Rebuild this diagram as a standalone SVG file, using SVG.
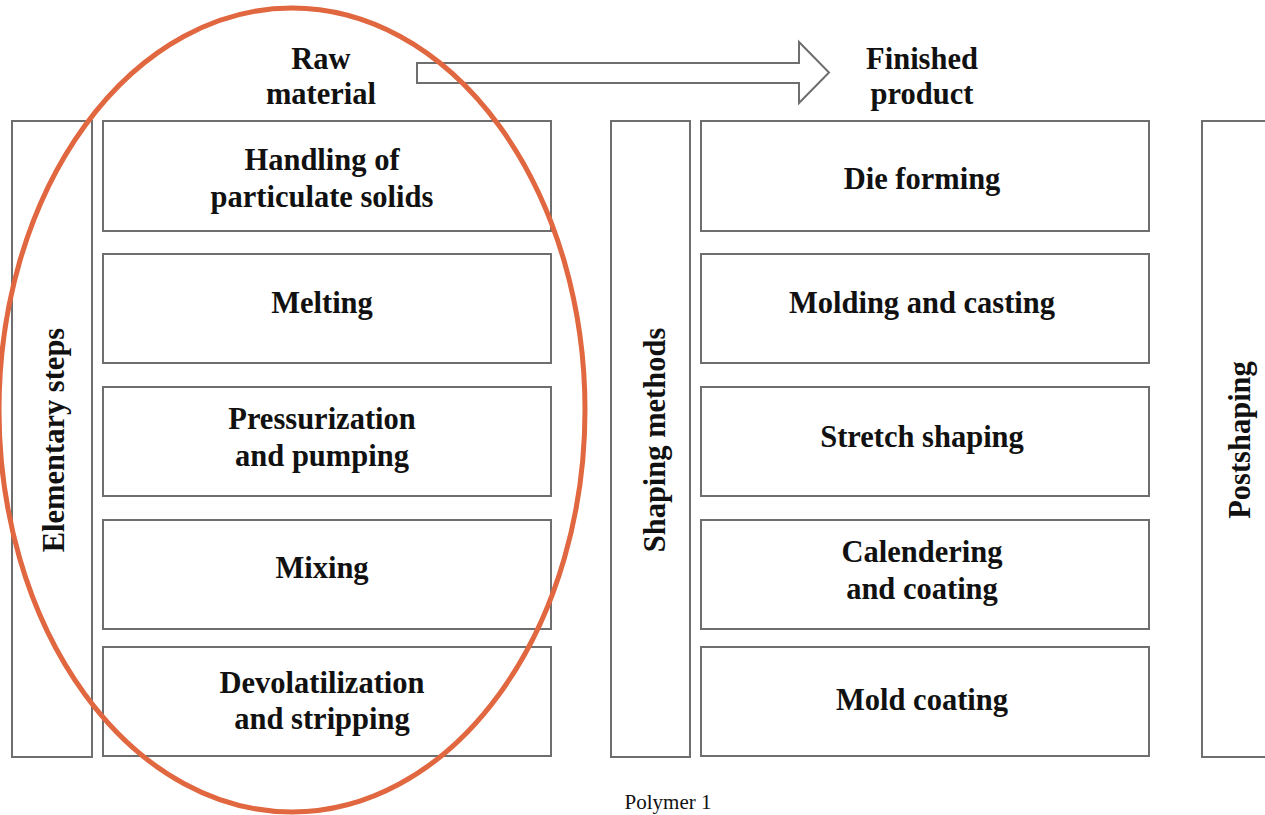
<svg xmlns="http://www.w3.org/2000/svg" width="1265" height="815" viewBox="0 0 1265 815">
  <style>
    .box { fill: #ffffff; stroke: #6e6e6e; stroke-width: 2; }
    .lbl { font-family: "Liberation Serif", "Times New Roman", serif; font-weight: bold; font-size: 30.5px; fill: #111111; text-anchor: middle; }
    .cap { font-family: "Liberation Serif", "Times New Roman", serif; font-size: 21px; fill: #111111; text-anchor: middle; }
    .ring { fill: none; stroke: #E0673F; stroke-width: 5; }
  </style>
  <rect width="1265" height="815" fill="#ffffff"/>

  <!-- top labels and flow arrow -->
  <g id="raw-material">
    <text class="lbl" x="321" y="69">Raw</text>
    <text class="lbl" x="321" y="104">material</text>
  </g>
  <g id="finished-product">
    <text class="lbl" x="922" y="69">Finished</text>
    <text class="lbl" x="922" y="104">product</text>
  </g>
  <g id="connectors">
    <path d="M417,63 L799,63 L799,42 L829,72.5 L799,103 L799,83 L417,83 Z" fill="#ffffff" stroke="#6e6e6e" stroke-width="2" stroke-linejoin="miter"/>
  </g>

  <!-- elementary steps column -->
  <g id="elementary-steps">
    <rect class="box" x="12" y="121" width="80" height="636"/>
    <text class="lbl" transform="translate(64,440) rotate(-90)">Elementary steps</text>
  </g>
  <g id="handling">
    <rect class="box" x="103" y="121" width="448" height="110"/>
    <text class="lbl" x="322" y="170">Handling of</text>
    <text class="lbl" x="322" y="207">particulate solids</text>
  </g>
  <g id="melting">
    <rect class="box" x="103" y="254" width="448" height="109"/>
    <text class="lbl" x="322" y="313">Melting</text>
  </g>
  <g id="pressurization">
    <rect class="box" x="103" y="387" width="448" height="109"/>
    <text class="lbl" x="322" y="429">Pressurization</text>
    <text class="lbl" x="322" y="466">and pumping</text>
  </g>
  <g id="mixing">
    <rect class="box" x="103" y="520" width="448" height="109"/>
    <text class="lbl" x="322" y="578">Mixing</text>
  </g>
  <g id="devolatilization">
    <rect class="box" x="103" y="647" width="448" height="109"/>
    <text class="lbl" x="322" y="693">Devolatilization</text>
    <text class="lbl" x="322" y="729">and stripping</text>
  </g>

  <!-- shaping methods column -->
  <g id="shaping-methods">
    <rect class="box" x="611" y="121" width="79" height="636"/>
    <text class="lbl" transform="translate(665,440) rotate(-90)">Shaping methods</text>
  </g>
  <g id="die-forming">
    <rect class="box" x="701" y="121" width="448" height="110"/>
    <text class="lbl" x="922" y="189">Die forming</text>
  </g>
  <g id="molding-casting">
    <rect class="box" x="701" y="254" width="448" height="109"/>
    <text class="lbl" x="922" y="313">Molding and casting</text>
  </g>
  <g id="stretch-shaping">
    <rect class="box" x="701" y="387" width="448" height="109"/>
    <text class="lbl" x="922" y="447">Stretch shaping</text>
  </g>
  <g id="calendering">
    <rect class="box" x="701" y="520" width="448" height="109"/>
    <text class="lbl" x="922" y="562">Calendering</text>
    <text class="lbl" x="922" y="599">and coating</text>
  </g>
  <g id="mold-coating">
    <rect class="box" x="701" y="647" width="448" height="109"/>
    <text class="lbl" x="922" y="710">Mold coating</text>
  </g>

  <!-- postshaping column (runs off the right edge) -->
  <g id="postshaping">
    <rect class="box" x="1202" y="121" width="80" height="636"/>
    <text class="lbl" transform="translate(1250,440) rotate(-90)">Postshaping</text>
  </g>

  <g id="caption">
    <text class="cap" x="668" y="809">Polymer 1</text>
  </g>

  <!-- highlight around the elementary steps -->
  <g id="highlight">
    <ellipse class="ring" cx="292" cy="410" rx="293" ry="402"/>
  </g>
</svg>
